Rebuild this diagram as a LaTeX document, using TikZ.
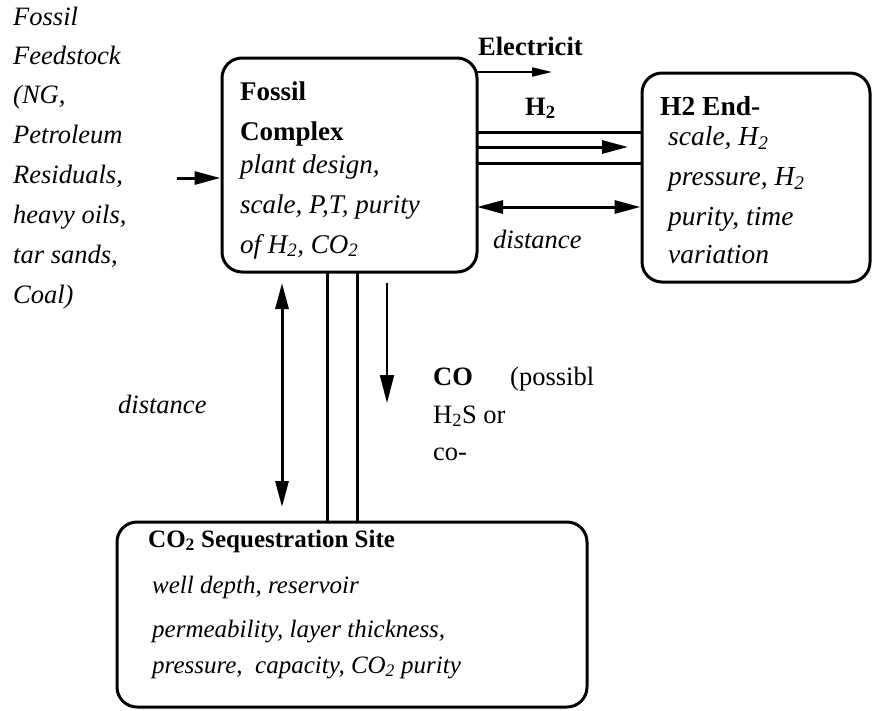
\documentclass[tikz,border=0pt]{standalone}
\usepackage{fontspec}
\setmainfont{Liberation Serif}
\usetikzlibrary{arrows.meta}
\begin{document}
\begin{tikzpicture}[x=1pt,y=-1pt,
  box/.style={draw,line width=3pt,rounded corners=20pt,inner sep=0pt},
  lbl/.style={anchor=base west,inner sep=0pt,font=\fontsize{26.5}{30}\selectfont},
  itl/.style={lbl,font=\fontsize{26.5}{30}\selectfont\itshape},
  bfl/.style={lbl,font=\fontsize{26.5}{30}\selectfont\bfseries},
  fcs/.style={font=\fontsize{27}{30}\selectfont},
  hes/.style={font=\fontsize{27.5}{30}\selectfont},
  sqs/.style={font=\fontsize{25}{30}\selectfont},
  pipe/.style={line width=3pt},
  arr/.style={line width=3pt,-{Triangle[length=26pt,width=13pt]}},
  darr/.style={line width=3pt,{Triangle[length=26pt,width=13pt]}-{Triangle[length=26pt,width=13pt]}},
  thinarr/.style={line width=2pt,-{Triangle[length=20pt,width=9pt]}}]
\useasboundingbox (0,0) rectangle (873,710);
% boxes
\node[box,minimum width=255pt,minimum height=214pt] (fc) at (349.5,165) {};
\node[box,minimum width=228pt,minimum height=209pt] (he) at (756,177.5) {};
\node[box,minimum width=470pt,minimum height=185pt] (sq) at (352,614.5) {};
% left text
\node[itl] (f1) at (13,25) {Fossil};
\node[itl] (f2) at (13,64) {Feedstock};
\node[itl] (f3) at (13,103) {(NG,};
\node[itl] (f4) at (13,143) {Petroleum};
\node[itl] (f5) at (13,183) {Residuals,};
\node[itl] (f6) at (13,223) {heavy oils,};
\node[itl] (f7) at (13,263) {tar sands,};
\node[itl] (f8) at (13,303) {Coal)};
% fossil complex text
\node[bfl,fcs] (c1) at (240,100) {\bfseries Fossil};
\node[bfl,fcs] (c2) at (240,140) {\bfseries Complex};
\node[itl,fcs] (c3) at (240,173) {\itshape plant design,};
\node[itl,fcs] (c4) at (240,213) {\itshape scale, P,T, purity};
\node[itl,fcs] (c5) at (240,253) {\itshape of H\textsubscript{2}, CO\textsubscript{2}};
% H2 end text
\node[bfl,hes] (h1) at (660,115) {\bfseries H2 End-};
\node[itl,hes] (h2) at (668,145) {\itshape scale, H\textsubscript{2}};
\node[itl,hes] (h3) at (668,185) {\itshape pressure, H\textsubscript{2}};
\node[itl,hes] (h4) at (668,225) {\itshape purity, time};
\node[itl,hes] (h5) at (668,263) {\itshape variation};
% sequestration text
\node[bfl,sqs] (s1) at (148,547) {\bfseries CO\textsubscript{2} Sequestration Site};
\node[itl,sqs] (s2) at (152,593) {\itshape well depth, reservoir};
\node[itl,sqs] (s3) at (152,637) {\itshape permeability, layer thickness,};
\node[itl,sqs] (s4) at (152,673) {\itshape pressure,\ \ capacity, CO\textsubscript{2} purity};
% other labels
\node[bfl] (el) at (478,55) {Electricit};
\node[bfl] (h2l) at (525,115) {H\textsubscript{2}};
\node[itl] (d1) at (493,248) {distance};
\node[itl] (d2) at (118,413) {distance};
\node[bfl] (co) at (433,385) {CO};
\node[lbl] (pos) at (510,385) {(possibl};
\node[lbl] (hs) at (433,423) {H\textsubscript{2}S or};
\node[lbl] (cop) at (433,460) {co-};
% coordinates
\coordinate (in1) at (177,178);
\coordinate (el1) at (477,72);
\coordinate (el2) at (552,72);
\coordinate (pa) at (477,132);
\coordinate (pb) at (477,163);
\coordinate (pm) at (477,147);
\coordinate (pm2) at (628,147);
\coordinate (dd) at (477,207);
\coordinate (va) at (327,272);
\coordinate (vb) at (357,272);
\coordinate (ca) at (387,283);
\coordinate (cb) at (387,403);
\coordinate (da) at (282,283);
\coordinate (db) at (282,507);
% connectors
\draw[arr] (in1) -- (in1 -| fc.west);
\draw[thinarr] (el1) -- (el2);
\draw[pipe] (pa) -- (pa -| he.west);
\draw[pipe] (pb) -- (pb -| he.west);
\draw[arr] (pm) -- (pm2);
\draw[darr] (dd) -- (dd -| he.west);
\draw[pipe] (va) -- (va |- sq.north);
\draw[pipe] (vb) -- (vb |- sq.north);
\draw[line width=2pt,-{Triangle[length=28pt,width=14pt]}] (ca) -- (cb);
\draw[darr] (da) -- (db);
\end{tikzpicture}
\end{document}
